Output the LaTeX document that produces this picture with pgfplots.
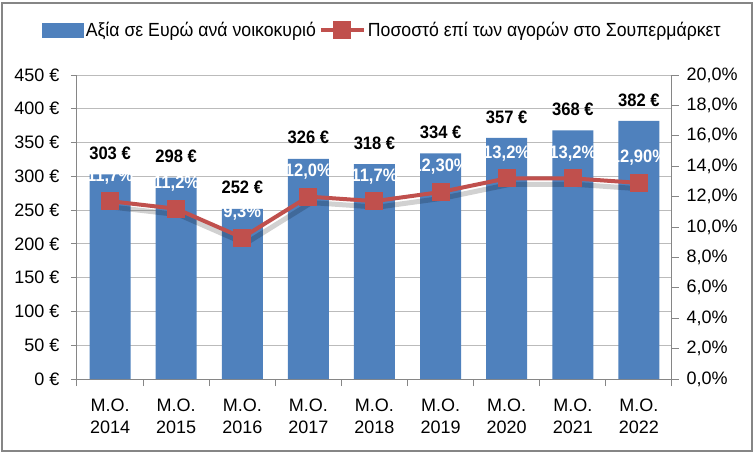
\documentclass[border=0pt]{standalone}
\usepackage{pgfplots}
\pgfplotsset{compat=1.18}
\usepackage{fontspec}
\setmainfont{Liberation Sans}
\newfontfamily\narrowfont{Liberation Sans}[FakeStretch=0.93]
\newfontfamily\labelfont{Liberation Sans}[FakeStretch=0.92]
\definecolor{barblue}{HTML}{4F81BD}
\definecolor{linered}{HTML}{C0504D}
\definecolor{axgray}{HTML}{868686}
\definecolor{gridgray}{HTML}{BBBBBB}
\pgfplotsset{/pgf/number format/assume math mode=true}
\begin{document}
\begin{tikzpicture}[x=1pt,y=1pt]
\useasboundingbox (-77,-77) rectangle (679,379);
\draw[axgray, line width=1.3pt] (-75,-72) rectangle (675,376);
\begin{axis}[
  at={(0,0)}, anchor=south west,
  scale only axis, width=595pt, height=304pt,
  xmin=-0.5, xmax=8.5, ymin=0, ymax=450,
  axis y line*=left, axis x line*=bottom,
  axis line style={axgray, line width=1pt},
  ytick={0,50,...,450},
  yticklabel={\pgfmathprintnumber{\tick}~€},
  yticklabel style={font=\fontsize{18}{21}\selectfont, xshift=-8pt},
  ymajorgrids, major grid style={gridgray, line width=1pt},
  xtick={0,...,8},
  xticklabels={{M.O.\\2014},{M.O.\\2015},{M.O.\\2016},{M.O.\\2017},{M.O.\\2018},{M.O.\\2019},{M.O.\\2020},{M.O.\\2021},{M.O.\\2022}},
  xticklabel style={font=\fontsize{18}{22}\selectfont, align=center, yshift=-10pt},
  major x tick style={draw=none},
  minor xtick={-0.5,0.5,...,8.5},
  minor tick length=7pt, major tick length=6pt,
  tick align=outside,
  tick style={axgray, line width=1pt},
  ybar, bar width=41pt,
  nodes near coords={\pgfmathprintnumber{\pgfplotspointmeta}~€},
  every node near coord/.style={anchor=center, yshift=21pt, font=\labelfont\bfseries\fontsize{18}{21}\selectfont, black},
]
\addplot[fill=barblue, draw=none] coordinates {(0,303) (1,298) (2,252) (3,326) (4,318) (5,334) (6,357) (7,368) (8,382)};
\end{axis}
\begin{axis}[
  at={(0,0)}, anchor=south west,
  scale only axis, width=595pt, height=304pt,
  xmin=-0.5, xmax=8.5, ymin=0, ymax=20,
  axis y line*=right, axis x line=none,
  axis line style={axgray, line width=1pt},
  ytick={0,2,...,20},
  yticklabel={\pgfmathprintnumber[fixed,fixed zerofill,precision=1,use comma]{\tick}\%},
  yticklabel style={font=\fontsize{18}{21}\selectfont, xshift=4pt},
  major tick length=7pt, tick align=outside,
  tick style={axgray, line width=1pt},
  legend style={at={(axis description cs:0.5,1)}, anchor=center, xshift=8pt, yshift=45pt,
    draw=none, fill=none, inner sep=0pt, legend columns=-1,
    font=\narrowfont\fontsize{19}{22}\selectfont,
    /tikz/every even column/.append style={column sep=1pt}},
  legend cell align=left,
]
\addlegendimage{legend image code/.code={\fill[barblue] (0pt,-7pt) rectangle (41pt,7pt);}}
\addlegendentry{Αξία σε Ευρώ ανά νοικοκυριό}
\addplot[black, opacity=0.18, line width=5pt, mark=none, forget plot,
  transform canvas={xshift=3pt,yshift=-6pt}]
  coordinates {(0,11.7) (1,11.2) (2,9.3) (3,12.0) (4,11.7) (5,12.3) (6,13.2) (7,13.2) (8,12.9)};
\addplot[linered, line width=4pt, mark=square*, mark size=7pt, mark options={solid},
  legend image code/.code={\draw[linered, line width=4pt] (0pt,0pt) -- (43pt,0pt); \fill[linered] (14.5pt,-7pt) rectangle (28.5pt,7pt);},
  point meta=explicit symbolic,
  nodes near coords,
  every node near coord/.style={anchor=center, yshift=25pt, font=\labelfont\bfseries\fontsize{18}{21}\selectfont, white}]
  coordinates {(0,11.7) [11,7\%] (1,11.2) [11,2\%] (2,9.3) [9,3\%] (3,12.0) [12,0\%] (4,11.7) [11,7\%] (5,12.3) [12,30\%] (6,13.2) [13,2\%] (7,13.2) [13,2\%] (8,12.9) [12,90\%]};
\addlegendentry{Ποσοστό επί των αγορών στο Σουπερμάρκετ}
\end{axis}
\end{tikzpicture}
\end{document}
